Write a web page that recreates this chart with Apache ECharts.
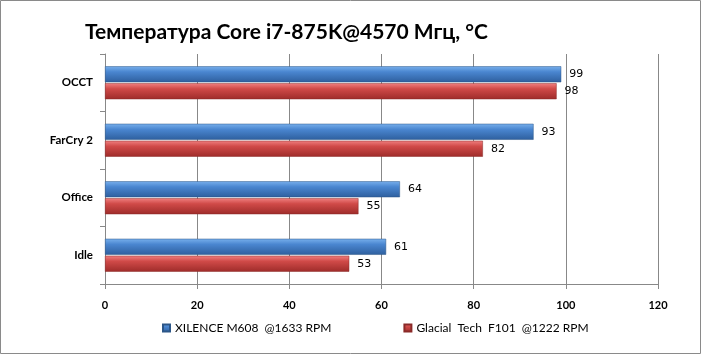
<!DOCTYPE html>
<html><head><meta charset="utf-8">
<script src="https://cdn.jsdelivr.net/npm/echarts@6/dist/echarts.min.js"></script>
<style>html,body{margin:0;padding:0;background:#fff}#c{width:702px;height:355px}</style>
</head><body><div id="c"></div>
<script>
const titleText = 'Температура Core i7-875K@4570 Мгц, °C';
const categories = ['OCCT', 'FarCry 2', 'Office', 'Idle'];
const seriesNames = ['XILENCE M608  @1633 RPM', 'Glacial  Tech  F101  @1222 RPM'];
const xilence = [99, 93, 64, 61];
const glacial = [98, 82, 55, 53];
const xTicks = [0, 20, 40, 60, 80, 100, 120];

const chart = echarts.init(document.getElementById('c'), null, {renderer: 'canvas'});
function grad(a, b, c) {
  return new echarts.graphic.LinearGradient(0, 0, 0, 1, [
    {offset: 0, color: a}, {offset: 0.35, color: b}, {offset: 1, color: c}
  ]);
}
const fontCat = 'Lato, "Open Sans", sans-serif';
chart.setOption({
  animation: false,
  backgroundColor: '#fff',
  graphic: [{type: 'rect', shape: {x: 0.5, y: 0.5, width: 700, height: 353}, style: {fill: 'none', stroke: '#8a8a8a', lineWidth: 1}}],
  title: {text: titleText, left: 80, top: 17,
    textStyle: {fontFamily: fontCat, fontWeight: 'bold', fontSize: 21, color: '#000'}},
  legend: {bottom: 16, left: 157, itemWidth: 7, itemHeight: 7, itemGap: 72,
    icon: 'rect',
    textStyle: {fontFamily: fontCat, fontSize: 12, color: '#000'},
    data: seriesNames},
  grid: {left: 105, right: 44, top: 54, bottom: 71},
  xAxis: {type: 'value', min: 0, max: 120, interval: 20,
    axisLine: {show: true, lineStyle: {color: '#888'}},
    axisTick: {show: true, length: 5, lineStyle: {color: '#888'}},
    splitLine: {show: true, lineStyle: {color: '#888'}},
    axisLabel: {margin: 16, fontFamily: fontCat, fontWeight: 'bold', fontSize: 11, color: '#000',
      formatter: v => xTicks.includes(v) ? String(v) : ''}},
  yAxis: {type: 'category', data: categories, inverse: true,
    axisLine: {show: true, lineStyle: {color: '#888'}},
    axisTick: {show: true, length: 5, lineStyle: {color: '#888'}},
    axisLabel: {margin: 12, fontFamily: fontCat, fontWeight: 'bold', fontSize: 11.5, color: '#000'}},
  series: [
    {name: seriesNames[0], type: 'bar', data: xilence, barWidth: 16, barGap: '6%',
      itemStyle: {color: grad('#78b0ec', '#4a86d0', '#2e5f9e'), borderColor: '#2c5688', borderWidth: 0.5},
      label: {show: true, position: 'right', distance: 8, fontFamily: 'DejaVu Sans', fontSize: 11, color: '#000'}},
    {name: seriesNames[1], type: 'bar', data: glacial, barWidth: 16,
      itemStyle: {color: grad('#f08080', '#d04a48', '#9e2c2a'), borderColor: '#8a2a28', borderWidth: 0.5},
      label: {show: true, position: 'right', distance: 8, fontFamily: 'DejaVu Sans', fontSize: 11, color: '#000'}}
  ]
});
</script></body></html>
